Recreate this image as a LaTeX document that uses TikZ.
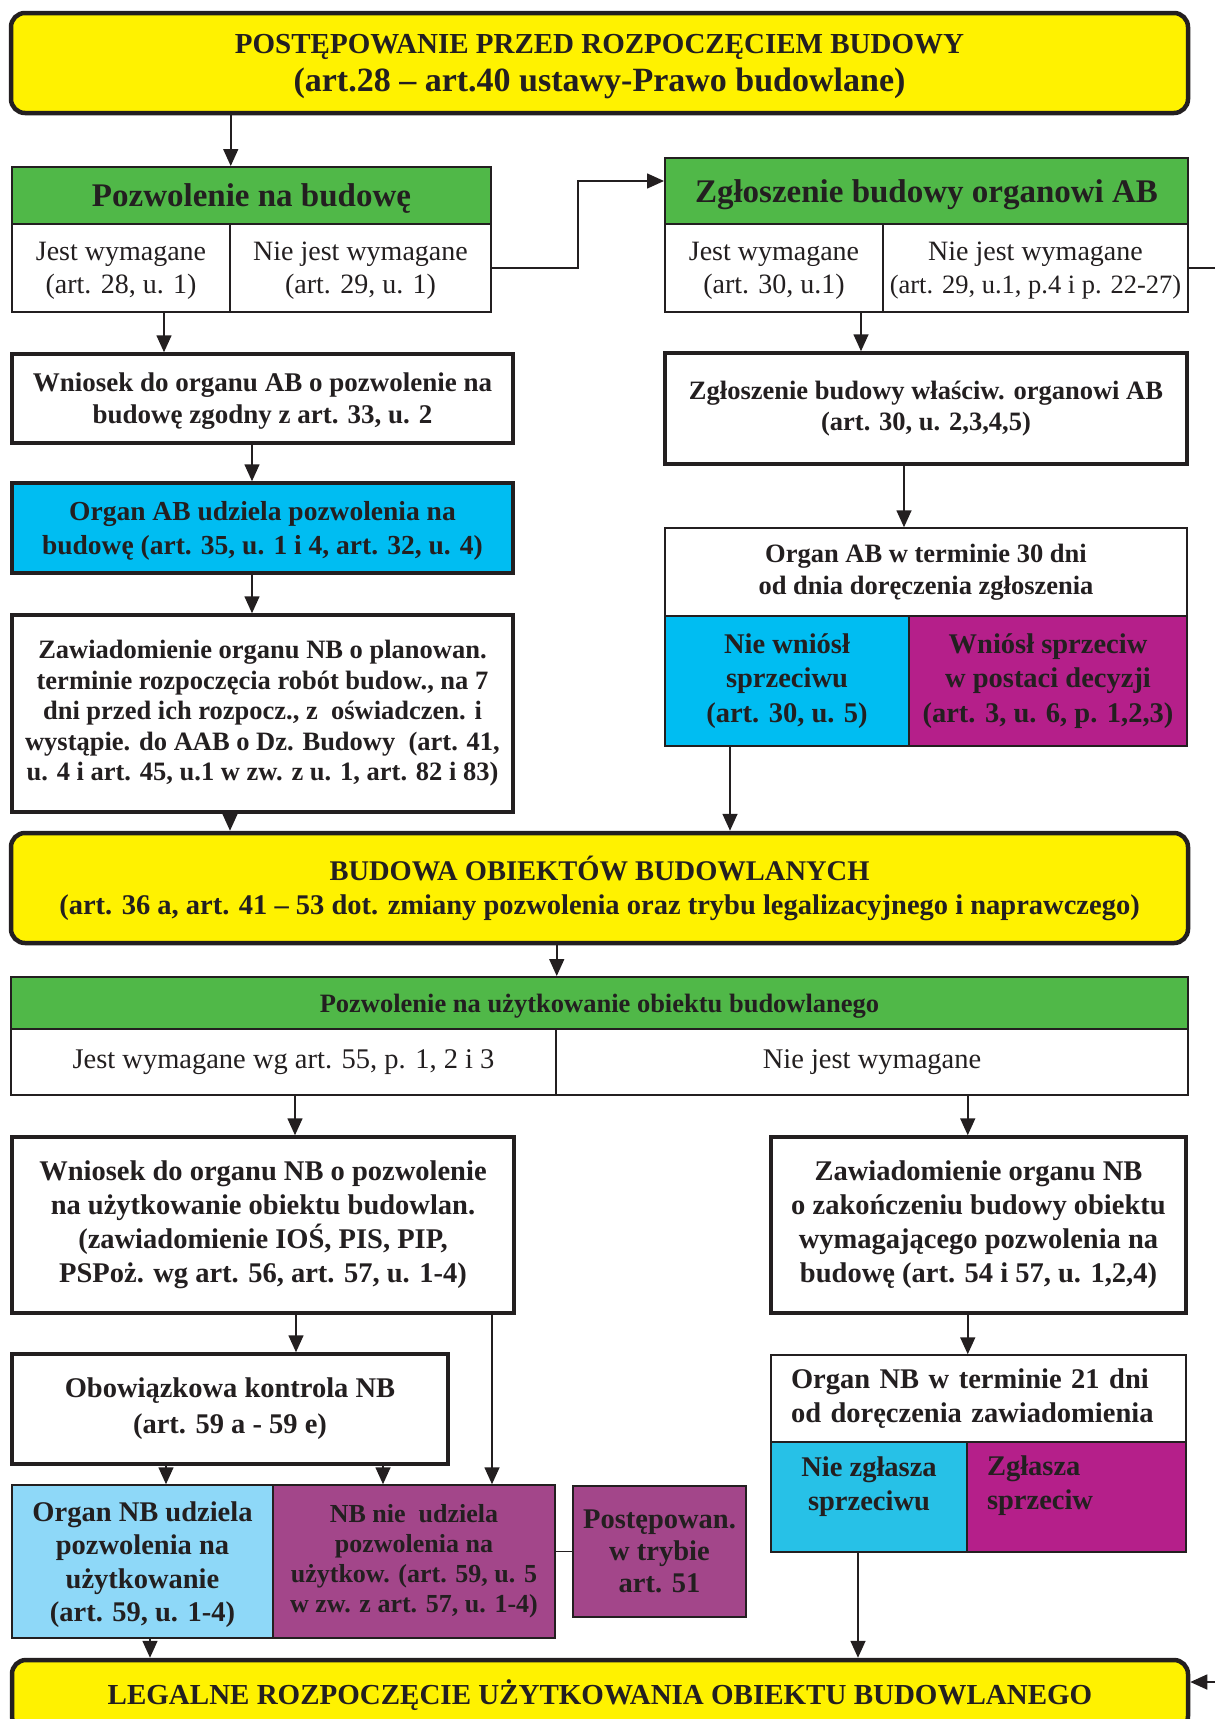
\documentclass[tikz,border=0pt]{standalone}
\usepackage{fontspec}
\setmainfont{Liberation Serif}
\usetikzlibrary{arrows.meta}

\definecolor{zolty}{HTML}{FFF200}
\definecolor{zielony}{HTML}{50B848}
\definecolor{niebieski}{HTML}{00BDF2}
\definecolor{jasnoniebieski}{HTML}{8ED8F8}
\definecolor{turkus}{HTML}{27C1E7}
\definecolor{purpura}{HTML}{B51F8A}
\definecolor{fiolet}{HTML}{A3468A}
\definecolor{ramka}{HTML}{231F20}

\newcommand{\rozm}[2]{\fontsize{#1}{#2}\selectfont}

\begin{document}
\begin{tikzpicture}[x=1pt,y=-1pt,
  main/.style={draw=ramka, line width=4.5pt, fill=zolty, rounded corners=14pt, inner sep=0pt, align=center, text=ramka, font=\rozm{28.5}{34}\bfseries},
  head/.style={draw=ramka, line width=2pt, fill=zielony, inner sep=0pt, align=center, text=ramka, text depth=0pt, font=\rozm{33}{38}\bfseries},
  cell/.style={draw=ramka, line width=1.5pt, fill=white, inner sep=0pt, align=center, text=ramka, font=\rozm{28}{33}},
  box/.style={draw=ramka, line width=3.5pt, fill=white, inner sep=0pt, align=center, text=ramka, font=\rozm{28.5}{34}\bfseries},
  pole/.style={draw=ramka, line width=1.5pt, fill=white, inner sep=0pt, align=center, text=ramka, font=\rozm{28.5}{34}\bfseries},
  arr/.style={draw=ramka, line width=1.6pt, -{Triangle[length=17pt,width=15pt]}},
  link/.style={draw=ramka, line width=1.6pt}
]
\useasboundingbox (0,0) rectangle (1215,1719);

% przed rozpoczeciem budowy
\node[main, text depth=-10pt, minimum width=1177, minimum height=100] (start) at (599.5,63)
  {{\rozm{29}{36}POSTĘPOWANIE PRZED ROZPOCZĘCIEM BUDOWY}\\[4pt]{\rozm{34}{38}(art.28 – art.40 ustawy-Prawo budowlane)}};

\node[head, minimum width=479, minimum height=57] (pb) at (251.5,195.5) {Pozwolenie na budowę};
\node[cell, text depth=0pt, minimum width=218, minimum height=88] (pb1) at (121,268) {Jest wymagane\\(art. 28, u. 1)};
\node[cell, text depth=0pt, minimum width=261, minimum height=88] (pb2) at (360.5,268) {Nie jest wymagane\\(art. 29, u. 1)};
\node[head, minimum width=523, minimum height=66] (zb) at (926.5,191) {Zgłoszenie budowy organowi AB};
\node[cell, text depth=0pt, minimum width=218, minimum height=88] (zb1) at (774,268) {Jest wymagane\\(art. 30, u.1)};
\node[cell, text depth=0pt, minimum width=305, minimum height=88] (zb2) at (1035.5,268) {Nie jest wymagane\\{\rozm{26.5}{32}(art. 29, u.1, p.4 i p. 22-27)}};

% pozwolenie na budowe
\node[box, font=\rozm{27}{32}\bfseries, text depth=0pt, minimum width=501, minimum height=89] (wn) at (262.5,398.5)
  {Wniosek do organu AB o pozwolenie na\\budowę zgodny z art. 33, u. 2};
\node[box, fill=niebieski, font=\rozm{27.5}{33.5}\bfseries, text depth=0pt, minimum width=501, minimum height=90] (ob) at (262.5,528)
  {Organ AB udziela pozwolenia na\\budowę (art. 35, u. 1 i 4, art. 32, u. 4)};
\node[box, font=\rozm{26.5}{30.5}\bfseries, minimum width=501, minimum height=197] (zn) at (262.5,713.5)
  {Zawiadomienie organu NB o planowan.\\terminie rozpoczęcia robót budow., na 7\\dni przed ich rozpocz., z\ \ oświadczen. i\\wystąpie. do AAB o Dz. Budowy\ \ (art. 41,\\u. 4 i art. 45, u.1 w zw. z u. 1, art. 82 i 83)};

% zgloszenie
\node[box, font=\rozm{26.5}{31}\bfseries, minimum width=522, minimum height=111] (zw) at (926,408.5)
  {Zgłoszenie budowy właściw. organowi AB\\(art. 30, u. 2,3,4,5)};
\node[pole, font=\rozm{26.5}{32}\bfseries, minimum width=522, minimum height=88] (ot) at (926,572)
  {Organ AB w terminie 30 dni\\od dnia doręczenia zgłoszenia};
\node[pole, fill=niebieski, font=\rozm{28.5}{34.5}\bfseries, minimum width=244, minimum height=130] (ot1) at (787,681)
  {Nie wniósł\\sprzeciwu\\(art. 30, u. 5)};
\node[pole, fill=purpura, font=\rozm{28.5}{34.5}\bfseries, minimum width=278, minimum height=130] (ot2) at (1048,681)
  {Wniósł sprzeciw\\w postaci decyzji\\(art. 3, u. 6, p. 1,2,3)};

% budowa
\node[main, minimum width=1177, minimum height=110] (budowa) at (599.5,888)
  {BUDOWA OBIEKTÓW BUDOWLANYCH\\(art. 36 a, art. 41 – 53 dot. zmiany pozwolenia oraz trybu legalizacyjnego i naprawczego)};

\node[head, font=\rozm{26.5}{32}\bfseries, minimum width=1177, minimum height=52] (pu) at (599.5,1003)
  {Pozwolenie na użytkowanie obiektu budowlanego};
\node[cell, font=\rozm{28.5}{33}, minimum width=545, minimum height=66] (pu1) at (283.5,1062) {Jest wymagane wg art. 55, p. 1, 2 i 3};
\node[cell, font=\rozm{28.5}{33}, minimum width=632, minimum height=66] (pu2) at (872,1062) {Nie jest wymagane};

% uzytkowanie - wymagane
\node[box, minimum width=502, minimum height=176] (wnb) at (263,1225)
  {Wniosek do organu NB o pozwolenie\\na użytkowanie obiektu budowlan.\\(zawiadomienie IOŚ, PIS, PIP,\\PSPoż. wg art. 56, art. 57, u. 1-4)};
\node[box, minimum width=436, minimum height=110] (obk) at (230,1409)
  {Obowiązkowa kontrola NB\\[2pt](art. 59 a - 59 e)};
\node[pole, fill=jasnoniebieski, font=\rozm{28.5}{33.3}\bfseries, text depth=0pt, minimum width=261, minimum height=153] (onb) at (142.5,1561.5)
  {Organ NB udziela\\pozwolenia na\\użytkowanie\\(art. 59, u. 1-4)};
\node[pole, fill=fiolet, font=\rozm{26}{30}\bfseries, minimum width=282, minimum height=153] (nbn) at (414,1561.5)
  {NB nie\ \ udziela\\pozwolenia na\\użytkow. (art. 59, u. 5\\w zw. z art. 57, u. 1-4)};
\node[pole, fill=fiolet, font=\rozm{28.5}{32}\bfseries, minimum width=173, minimum height=131] (pst) at (659.5,1551.5)
  {Postępowan.\\w trybie\\art. 51};

% uzytkowanie - niewymagane
\node[box, minimum width=415, minimum height=176] (znb) at (978.5,1225)
  {Zawiadomienie organu NB\\o zakończeniu budowy obiektu\\wymagającego pozwolenia na\\budowę (art. 54 i 57, u. 1,2,4)};
\node[pole, align=left, text width=375, inner xsep=20pt, minimum height=87] (ont) at (978.5,1398.5)
  {Organ NB w terminie 21 dni\\od doręczenia zawiadomienia};
\node[pole, fill=turkus, text depth=26pt, minimum width=196, minimum height=110] (ont1) at (869,1497)
  {Nie zgłasza\\sprzeciwu};
\node[pole, fill=purpura, align=left, text width=179, inner xsep=20pt, text depth=62pt, minimum height=110] (ont2) at (1076.5,1497)
  {Zgłasza\\sprzeciw};

\node[main, font=\rozm{29}{34}\bfseries, minimum width=1176, minimum height=70] (legal) at (600,1695)
  {LEGALNE ROZPOCZĘCIE UŻYTKOWANIA OBIEKTU BUDOWLANEGO};

% polaczenia
\draw[arr] (start.south -| pb1.east) -- (pb.north -| pb1.east);
\draw[arr] (pb2.east) -- ++(86,0) |- ([yshift=10pt]zb.west);
\draw[arr] (zb2.east) -- ++(45,0) |- ([yshift=13pt]legal.east);
\draw[arr] ([xshift=43pt]pb1.south) -- ([xshift=43pt]pb1.south |- wn.north);
\draw[arr] ([xshift=-10.5pt]wn.south) -- ([xshift=-10.5pt]ob.north);
\draw[arr] ([xshift=-10.5pt]ob.south) -- ([xshift=-10.5pt]zn.north);
\draw[arr] ([xshift=-32.5pt]zn.south) -- ([xshift=-32.5pt]zn.south |- budowa.north);
\draw[arr] ([xshift=87pt]zb1.south) -- ([xshift=87pt]zb1.south |- zw.north);
\draw[arr] ([xshift=-22pt]zw.south) -- ([xshift=-22pt]ot.north);
\draw[arr] ([xshift=-57pt]ot1.south) -- ([xshift=-57pt]ot1.south |- budowa.north);
\draw[arr] (budowa.south -| pu1.east) -- (pu.north -| pu1.east);
\draw[arr] ([xshift=11.5pt]pu1.south) -- ([xshift=11.5pt]pu1.south |- wnb.north);
\draw[arr] (pu2.south -| ont1.east) -- (znb.north -| ont1.east);
\draw[arr] ([xshift=33pt]wnb.south) -- ([xshift=33pt]wnb.south |- obk.north);
\draw[arr] ([xshift=229pt]wnb.south) -- ([xshift=229pt]wnb.south |- nbn.north);
\draw[arr] ([xshift=-64pt]obk.south) -- ([xshift=-64pt]obk.south |- onb.north);
\draw[arr] ([xshift=153pt]obk.south) -- ([xshift=153pt]obk.south |- nbn.north);
\draw[link] (nbn.east |- pst.west) -- (pst.west);
\draw[arr] ([xshift=7.5pt]onb.south) -- ([xshift=7.5pt]onb.south |- legal.north);
\draw[arr] (znb.south -| ont1.east) -- (ont.north -| ont1.east);
\draw[arr] ([xshift=-11pt]ont1.south) -- ([xshift=-11pt]ont1.south |- legal.north);
\end{tikzpicture}
\end{document}
